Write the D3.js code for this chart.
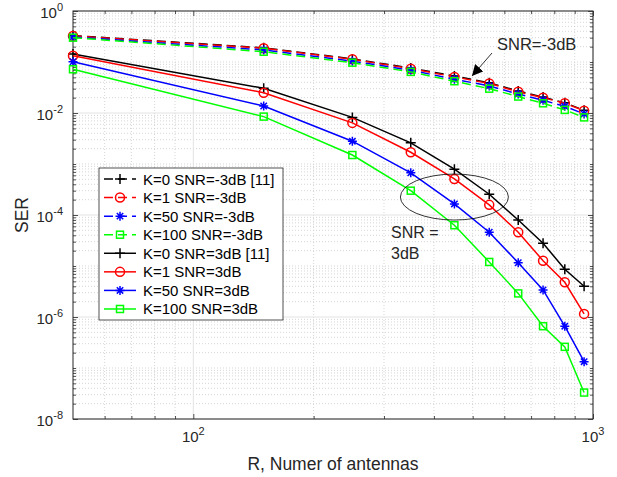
<!DOCTYPE html>
<html>
<head>
<meta charset="utf-8">
<script src="https://cdn.jsdelivr.net/npm/d3@7"></script>
<style>
  body { margin: 0; background: #fff; }
  svg { font-family: "Liberation Sans", Arial, sans-serif; }
</style>
</head>
<body>
<div id="chart"></div>
<script>
// antenna counts (x)
const antennas = [50, 150, 250, 350, 450, 550, 650, 750, 850, 950];

// SNR = -3dB (dashed)
const k0m3   = [0.33, 0.19, 0.115, 0.076, 0.053, 0.039, 0.027, 0.0205, 0.0158, 0.0113];
const k1m3   = [0.325, 0.186, 0.113, 0.074, 0.051, 0.038, 0.026, 0.020, 0.0155, 0.0111];
const k50m3  = [0.31, 0.172, 0.104, 0.069, 0.046, 0.034, 0.0235, 0.0178, 0.0135, 0.0096];
const k100m3 = [0.30, 0.159, 0.097, 0.064, 0.042, 0.030, 0.021, 0.0155, 0.0115, 0.0082];

// SNR = 3dB (solid)
const k0p3   = [0.144, 0.0305, 0.0082, 0.0026, 0.00079, 0.000255, 8.0e-5, 2.8e-5, 8.6e-6, 4.0e-6];
const k1p3   = [0.133, 0.025, 0.0064, 0.0017, 0.00051, 0.000158, 4.6e-5, 1.27e-5, 4.8e-6, 1.15e-6];
const k50p3  = [0.101, 0.0137, 0.0028, 0.00067, 0.000165, 4.6e-5, 1.16e-5, 3.4e-6, 6.6e-7, 1.33e-7];
const k100p3 = [0.072, 0.0085, 0.0015, 0.0003, 6.3e-5, 1.2e-5, 2.9e-6, 6.6e-7, 2.6e-7, 3.3e-8];

const seriesNames = [
  "K=0 SNR=-3dB [11]", "K=1 SNR=-3dB", "K=50 SNR=-3dB", "K=100 SNR=-3dB",
  "K=0 SNR=3dB [11]", "K=1 SNR=3dB", "K=50 SNR=3dB", "K=100 SNR=3dB"
];
const seriesValues = [k0m3, k1m3, k50m3, k100m3, k0p3, k1p3, k50p3, k100p3];
const colors = ["#000000", "#ff0000", "#0000ff", "#00ff00"];
const markers = ["plus", "circle", "star", "square"];

const xMajor = [100, 1000];
const yMajor = [1, 1e-2, 1e-4, 1e-6, 1e-8];

const width = 617, height = 477;
const m = { left: 73, right: 24, top: 11, bottom: 58 };
const pw = width - m.left - m.right;
const ph = height - m.top - m.bottom;

const svg = d3.select("#chart").append("svg")
  .attr("width", width).attr("height", height);

const x = d3.scaleLog().domain([50, 1000]).range([0, pw]);
const y = d3.scaleLog().domain([1e-8, 1]).range([ph, 0]);

const g = svg.append("g").attr("transform", `translate(${m.left},${m.top})`);

// minor values
const xMinor = [];
for (let d = 10; d <= 100; d *= 10) for (let k = 2; k <= 9; k++) {
  const v = k * d; if (v > 50 && v < 1000 && v !== 100) xMinor.push(v);
}
const yMinor = [];
for (let e = -8; e < 0; e++) for (let k = 1; k <= 9; k++) {
  const v = k * Math.pow(10, e);
  if (!yMajor.some(t => Math.abs(t - v) / v < 1e-6)) yMinor.push(v);
}

// grid
const grid = g.append("g");
grid.selectAll(".xmin").data(xMinor).enter().append("line")
  .attr("x1", d => x(d)).attr("x2", d => x(d)).attr("y1", 0).attr("y2", ph)
  .attr("stroke", "#c4c4c4").attr("stroke-width", 0.7).attr("stroke-dasharray", "1,2");
grid.selectAll(".ymin").data(yMinor).enter().append("line")
  .attr("y1", d => y(d)).attr("y2", d => y(d)).attr("x1", 0).attr("x2", pw)
  .attr("stroke", "#c4c4c4").attr("stroke-width", 0.7).attr("stroke-dasharray", "1,2");
grid.selectAll(".xmaj").data(xMajor).enter().append("line")
  .attr("x1", d => x(d)).attr("x2", d => x(d)).attr("y1", 0).attr("y2", ph)
  .attr("stroke", "#e3e3e3").attr("stroke-width", 1);
grid.selectAll(".ymaj").data(yMajor).enter().append("line")
  .attr("y1", d => y(d)).attr("y2", d => y(d)).attr("x1", 0).attr("x2", pw)
  .attr("stroke", "#e3e3e3").attr("stroke-width", 1);

// axes (ticks inward on all four sides)
const axisColor = "#262626";
function tickAxis(gen, tr) {
  const a = g.append("g").attr("transform", tr).call(gen);
  a.select(".domain").remove();
  a.selectAll("line").attr("stroke", axisColor).attr("stroke-width", 0.8);
  a.selectAll("text").remove();
  return a;
}
tickAxis(d3.axisBottom(x).tickValues(xMajor).tickSize(-5), `translate(0,${ph})`);
tickAxis(d3.axisBottom(x).tickValues(xMinor).tickSize(-3), `translate(0,${ph})`);
tickAxis(d3.axisTop(x).tickValues(xMajor).tickSize(-5), "translate(0,0)");
tickAxis(d3.axisTop(x).tickValues(xMinor).tickSize(-3), "translate(0,0)");
tickAxis(d3.axisLeft(y).tickValues(yMajor).tickSize(-5), "translate(0,0)");
tickAxis(d3.axisLeft(y).tickValues(yMinor).tickSize(-3), "translate(0,0)");
tickAxis(d3.axisRight(y).tickValues(yMajor).tickSize(-5), `translate(${pw},0)`);
tickAxis(d3.axisRight(y).tickValues(yMinor).tickSize(-3), `translate(${pw},0)`);

g.append("rect").attr("width", pw).attr("height", ph)
  .attr("fill", "none").attr("stroke", axisColor).attr("stroke-width", 1);

// tick labels with superscripts
g.selectAll(".xlab").data(xMajor).enter().append("text")
  .attr("x", d => x(d)).attr("y", ph + 23)
  .attr("text-anchor", "middle").attr("fill", axisColor).attr("font-size", 15)
  .each(function(d) {
    const t = d3.select(this);
    t.append("tspan").text("10");
    t.append("tspan").attr("dy", -7).attr("font-size", 11).text(Math.round(Math.log10(d)));
  });
g.selectAll(".ylab").data(yMajor).enter().append("text")
  .attr("x", -10).attr("y", d => y(d) + 7)
  .attr("text-anchor", "end").attr("fill", axisColor).attr("font-size", 15)
  .each(function(d) {
    const t = d3.select(this);
    t.append("tspan").text("10");
    t.append("tspan").attr("dy", -7).attr("font-size", 11).text(Math.round(Math.log10(d)));
  });

// axis titles
svg.append("text").attr("x", m.left + pw / 2).attr("y", 470)
  .attr("text-anchor", "middle").attr("font-size", 17.5).attr("fill", axisColor)
  .text("R, Numer of antennas");
svg.append("text").attr("transform", `translate(28,${m.top + ph / 2}) rotate(-90)`)
  .attr("text-anchor", "middle").attr("font-size", 17.5).attr("fill", axisColor)
  .text("SER");

// marker drawing
function drawMarker(sel, type, color) {
  if (type === "plus") {
    sel.append("path").attr("d", "M-5,0H5M0,-5V5")
      .attr("stroke", color).attr("stroke-width", 1.5).attr("fill", "none");
  } else if (type === "circle") {
    sel.append("circle").attr("r", 4.5)
      .attr("stroke", color).attr("stroke-width", 1.5).attr("fill", "none");
  } else if (type === "star") {
    sel.append("path").attr("d", "M-4.5,0H4.5M0,-4.5V4.5M-3.2,-3.2L3.2,3.2M-3.2,3.2L3.2,-3.2")
      .attr("stroke", color).attr("stroke-width", 1.5).attr("fill", "none");
  } else {
    sel.append("rect").attr("x", -3.5).attr("y", -3.5).attr("width", 7).attr("height", 7)
      .attr("stroke", color).attr("stroke-width", 1.5).attr("fill", "none");
  }
}

const line = d3.line().x(d => x(d.x)).y(d => y(d.y));
const plot = g.append("g");
seriesValues.forEach((vals, i) => {
  const pts = antennas.map((a, j) => ({ x: a, y: vals[j] }));
  const color = colors[i % 4];
  const dashed = i < 4;
  plot.append("path").datum(pts).attr("d", line)
    .attr("fill", "none").attr("stroke", color).attr("stroke-width", 1.5)
    .attr("stroke-dasharray", dashed ? "9,5" : null);
  plot.selectAll(".m" + i).data(pts).enter().append("g")
    .attr("transform", d => `translate(${x(d.x)},${y(d.y)})`)
    .each(function() { drawMarker(d3.select(this), markers[i % 4], color); });
});

// annotations
const ann = g.append("g");
ann.append("ellipse").attr("cx", x(450)).attr("cy", y(2.25e-4))
  .attr("rx", 54).attr("ry", 23).attr("fill", "none")
  .attr("stroke", "#000").attr("stroke-width", 0.8);
ann.append("text").attr("x", 391 - m.left).attr("y", 238 - m.top)
  .attr("font-size", 16).attr("fill", "#262626").text("SNR =");
ann.append("text").attr("x", 391 - m.left).attr("y", 259 - m.top)
  .attr("font-size", 16).attr("fill", "#262626").text("3dB");
ann.append("text").attr("x", 497 - m.left).attr("y", 50 - m.top)
  .attr("font-size", 16.5).attr("fill", "#262626").text("SNR=-3dB");

svg.append("defs").append("marker").attr("id", "arr")
  .attr("viewBox", "0 0 10 10").attr("refX", 10).attr("refY", 5)
  .attr("markerWidth", 11).attr("markerHeight", 11).attr("markerUnits", "userSpaceOnUse")
  .attr("orient", "auto")
  .append("path").attr("d", "M0,0L10,5L0,10z").attr("fill", "#000");
ann.append("line").attr("x1", 492 - m.left).attr("y1", 53 - m.top)
  .attr("x2", 472 - m.left).attr("y2", 76 - m.top)
  .attr("stroke", "#000").attr("stroke-width", 0.8).attr("marker-end", "url(#arr)");

// legend
const lg = svg.append("g");
lg.append("rect").attr("x", 99).attr("y", 168).attr("width", 184).attr("height", 152)
  .attr("fill", "#fff").attr("stroke", axisColor).attr("stroke-width", 0.8);
seriesNames.forEach((name, i) => {
  const yy = 179 + i * 18.57;
  const color = colors[i % 4];
  lg.append("line").attr("x1", 104).attr("x2", 136).attr("y1", yy).attr("y2", yy)
    .attr("stroke", color).attr("stroke-width", 1.5)
    .attr("stroke-dasharray", i < 4 ? "9,5" : null);
  const mk = lg.append("g").attr("transform", `translate(120,${yy})`);
  drawMarker(mk, markers[i % 4], color);
  lg.append("text").attr("x", 143).attr("y", yy + 5.5)
    .attr("font-size", 15).attr("fill", "#000").text(name);
});
</script>
</body>
</html>
